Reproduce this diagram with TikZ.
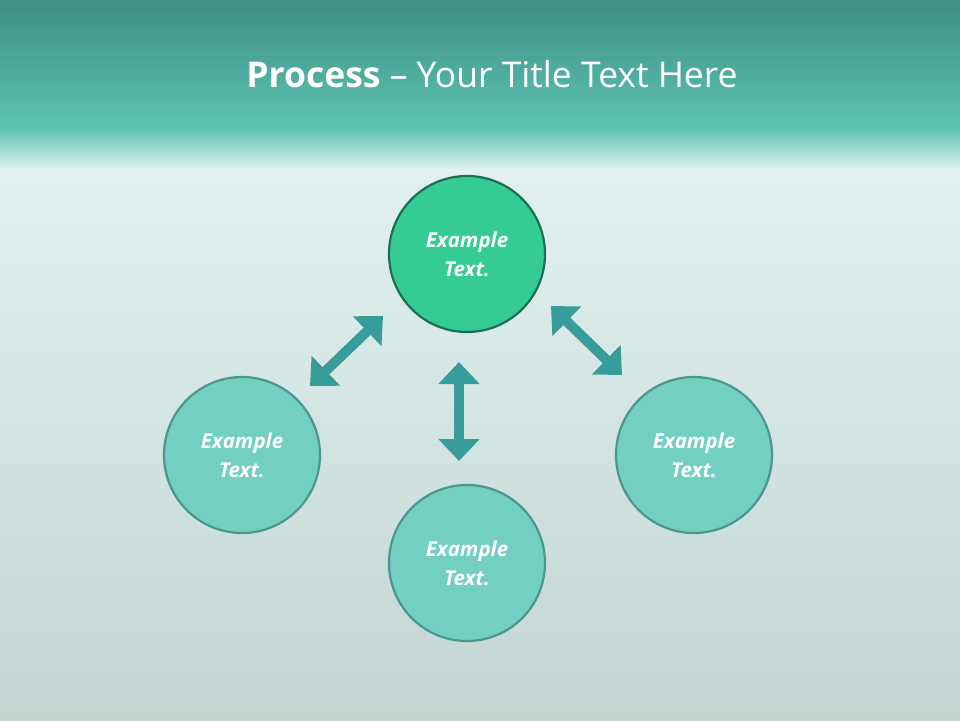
\documentclass[tikz,border=0pt]{standalone}
\usepackage{fontspec}
\setmainfont{Open Sans}
\usetikzlibrary{arrows.meta,shadings}
\definecolor{bandtop}{HTML}{3E8F84}
\definecolor{bandbot}{HTML}{5CC3B3}
\definecolor{mist}{HTML}{E2F2F1}
\definecolor{lowbg}{HTML}{C2D5D1}
\definecolor{arr}{HTML}{389C9A}
\definecolor{topfill}{HTML}{34CB95}
\definecolor{topdraw}{HTML}{1C6E57}
\definecolor{cfill}{HTML}{72CFC1}
\definecolor{cdraw}{HTML}{4B978F}
\tikzset{
 circ/.style={circle,minimum size=156pt,inner sep=0pt,line width=2.2pt,draw=cdraw,fill=cfill,
   font=\bfseries\itshape\fontsize{20.5pt}{29pt}\selectfont,text=white,align=center},
 topcirc/.style={circ,draw=topdraw,fill=topfill},
 dblarrow/.style={draw=arr,line width=10pt,{Triangle[width=40pt,length=22pt]}-{Triangle[width=40pt,length=22pt]}}
}
\begin{document}
\begin{tikzpicture}[x=1pt,y=-1pt]
\useasboundingbox (0,0) rectangle (960,720);
\shade[top color=mist,bottom color=lowbg] (0,150) rectangle (960,720);
\shade[top color=bandtop,bottom color=bandbot] (0,0) rectangle (960,128);
\shade[top color=bandbot,bottom color=mist] (0,128) rectangle (960,170);
\node (title) at (492,74) {\fontsize{35.5pt}{40pt}\selectfont\color{white}\textbf{Process} – Your Title Text Here};
\node[topcirc] (c1) at (467,254) {Example\\Text.};
\node[circ] (c2) at (242,455) {Example\\Text.};
\node[circ] (c3) at (467,563) {Example\\Text.};
\node[circ] (c4) at (694,455) {Example\\Text.};
\coordinate (a1) at (310,386); \coordinate (a2) at (383,316);
\coordinate (b1) at (551,306); \coordinate (b2) at (622,375);
\coordinate (v1) at (459,362); \coordinate (v2) at (459,461);
\draw[dblarrow] (a1) -- (a2);
\draw[dblarrow] (b1) -- (b2);
\draw[dblarrow] (v1) -- (v2);
\end{tikzpicture}
\end{document}
